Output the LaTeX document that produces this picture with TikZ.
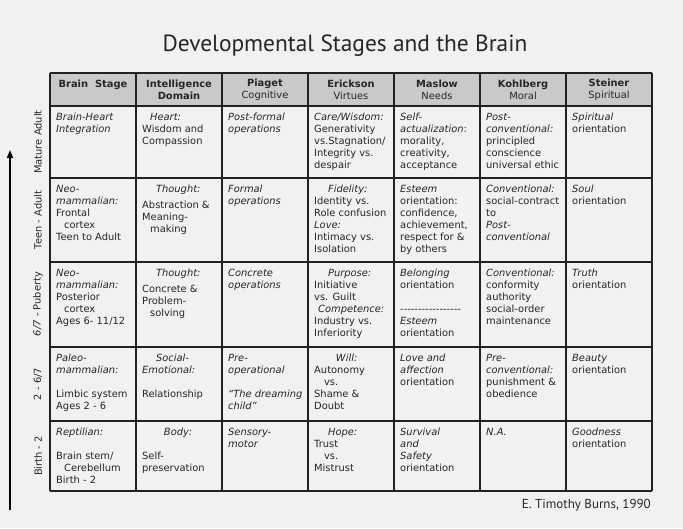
\documentclass[tikz,border=0pt]{standalone}
\usepackage{fontspec}
\setmainfont{DejaVu Sans}
\newfontfamily\titlefont{PT Sans}
\usetikzlibrary{arrows.meta}
\definecolor{bg}{HTML}{F1F1F1}
\definecolor{hd}{HTML}{C9C9C9}
\definecolor{ln}{HTML}{222222}
\newcommand\itl[1]{{\itshape #1}}
\begin{document}
\begin{tikzpicture}[x=1pt,y=-1pt,
  cell/.style={anchor=north west,inner sep=0pt,align=left,font=\fontsize{9.9}{12}\selectfont,text=black!85},
  head/.style={anchor=center,inner sep=0pt,align=center,font=\fontsize{9.9}{12}\selectfont,text=black!85},
  rowlab/.style={rotate=90,anchor=center,inner sep=0pt,font=\fontsize{9.9}{11}\selectfont,text=black!85},
  grid/.style={draw=ln,line width=1.3pt}]
\fill[bg] (0,0) rectangle (683,528);
\useasboundingbox (0,0) rectangle (683,528);
\node[font=\titlefont\fontsize{23.4}{28}\selectfont,text=black!85] (title) at (345,46) {Developmental Stages and the Brain};
\fill[hd] (50,73) rectangle (652,106);
\foreach \x in {50,136,222,308,394,480,566,652} \draw[grid] (\x,73) -- (\x,491);
\foreach \y in {73,106,178,262,347,421,491} \draw[grid] (50,\y) -- (652,\y);
% headers
\node[head] (h1) at (93,85) {\bfseries Brain\ \ Stage};
\node[head] (h2) at (179,90) {\bfseries Intelligence\\\bfseries Domain};
\node[head] (h3) at (265,90) {\bfseries Piaget\\Cognitive};
\node[head] (h4) at (351,90) {\bfseries Erickson\\Virtues};
\node[head] (h5) at (437,90) {\bfseries Maslow\\Needs};
\node[head] (h6) at (523,90) {\bfseries Kohlberg\\Moral};
\node[head] (h7) at (609,90) {\bfseries Steiner\\Spiritual};
% row labels
\node[rowlab] (l1) at (38,142) {Mature Adult};
\node[rowlab] (l2) at (38,220) {Teen - Adult};
\node[rowlab] (l3) at (38,304) {\itshape 6/7\upshape\ - Puberty};
\node[rowlab] (l4) at (38,384) {2 - 6/7};
\node[rowlab] (l5) at (38,456) {Birth - 2};
\coordinate (abot) at (10,510);
\coordinate (atop) at (10,150);
\draw[line width=1.6pt,-{Triangle[length=8pt,width=6pt]}] (abot) -- (atop);
% row 1
\node[cell] (r1c1) at (56,113) {\itl{Brain-Heart}\\\itl{Integration}};
\node[cell] (r1c2) at (142,113) {\hspace{0.8em}\itl{Heart:}\\Wisdom and\\Compassion};
\node[cell] (r1c3) at (228,113) {\itl{Post-formal}\\\itl{operations}};
\node[cell] (r1c4) at (314,113) {\itl{Care/Wisdom:}\\Generativity\\vs.Stagnation/\\Integrity vs.\\despair};
\node[cell] (r1c5) at (400,113) {\itl{Self-}\\\itl{actualization}:\\morality,\\creativity,\\acceptance};
\node[cell] (r1c6) at (486,113) {\itl{Post-}\\\itl{conventional:}\\principled\\conscience\\universal ethic};
\node[cell] (r1c7) at (572,113) {\itl{Spiritual}\\orientation};
% row 2
\node[cell] (r2c1) at (56,185) {\itl{Neo-}\\\itl{mammalian:}\\Frontal\\\hspace{0.8em}cortex\\Teen to Adult};
\node[cell] (r2c2) at (142,185) {\hspace{1.4em}\itl{Thought:}\\[4pt]Abstraction \&\\Meaning-\\\hspace{0.8em}making};
\node[cell] (r2c3) at (228,185) {\itl{Formal}\\\itl{operations}};
\node[cell] (r2c4) at (314,185) {\hspace{1.4em}\itl{Fidelity:}\\Identity vs.\\Role confusion\\\itl{Love:}\\Intimacy vs.\\Isolation};
\node[cell] (r2c5) at (400,185) {\itl{Esteem}\\orientation:\\confidence,\\achievement,\\respect for \&\\by others};
\node[cell] (r2c6) at (486,185) {\itl{Conventional:}\\social-contract\\to\\\itl{Post-}\\\itl{conventional}};
\node[cell] (r2c7) at (572,185) {\itl{Soul}\\orientation};
% row 3
\node[cell] (r3c1) at (56,269) {\itl{Neo-}\\\itl{mammalian:}\\Posterior\\\hspace{0.8em}cortex\\Ages 6- 11/12};
\node[cell] (r3c2) at (142,269) {\hspace{1.4em}\itl{Thought:}\\[4pt]Concrete \&\\Problem-\\\hspace{0.8em}solving};
\node[cell] (r3c3) at (228,269) {\itl{Concrete}\\\itl{operations}};
\node[cell] (r3c4) at (314,269) {\hspace{1.4em}\itl{Purpose:}\\Initiative\\vs. Guilt\\\hspace{0.4em}\itl{Competence:}\\Industry vs.\\Inferiority};
\node[cell] (r3c5) at (400,269) {\itl{Belonging}\\orientation\\[12pt]-{}-{}-{}-{}-{}-{}-{}-{}-{}-{}-{}-{}-{}-{}-{}-{}-\\\itl{Esteem}\\orientation};
\node[cell] (r3c6) at (486,269) {\itl{Conventional:}\\conformity\\authority\\social-order\\maintenance};
\node[cell] (r3c7) at (572,269) {\itl{Truth}\\orientation};
% row 4
\node[cell] (r4c1) at (56,354) {\itl{Paleo-}\\\itl{mammalian:}\\[12pt]Limbic system\\Ages 2 - 6};
\node[cell] (r4c2) at (142,354) {\hspace{1.4em}\itl{Social-}\\\itl{Emotional:}\\[12pt]Relationship};
\node[cell] (r4c3) at (228,354) {\itl{Pre-}\\\itl{operational}\\[12pt]\itl{``The dreaming}\\\itl{child''}};
\node[cell] (r4c4) at (314,354) {\hspace{2.2em}\itl{Will:}\\Autonomy\\\hspace{1em}vs.\\Shame \&\\Doubt};
\node[cell] (r4c5) at (400,354) {\itl{Love and}\\\itl{affection}\\orientation};
\node[cell] (r4c6) at (486,354) {\itl{Pre-}\\\itl{conventional:}\\punishment \&\\obedience};
\node[cell] (r4c7) at (572,354) {\itl{Beauty}\\orientation};
% row 5
\node[cell] (r5c1) at (56,428) {\itl{Reptilian:}\\[12pt]Brain stem/\\\hspace{0.8em}Cerebellum\\Birth - 2};
\node[cell] (r5c2) at (142,428) {\hspace{2.2em}\itl{Body:}\\[12pt]Self-\\preservation};
\node[cell] (r5c3) at (228,428) {\itl{Sensory-}\\\itl{motor}};
\node[cell] (r5c4) at (314,428) {\hspace{1.4em}\itl{Hope:}\\Trust\\\hspace{1em}vs.\\Mistrust};
\node[cell] (r5c5) at (400,428) {\itl{Survival}\\\itl{and}\\\itl{Safety}\\orientation};
\node[cell] (r5c6) at (486,428) {\itl{N.A.}};
\node[cell] (r5c7) at (572,428) {\itl{Goodness}\\orientation};
\node[anchor=east,inner sep=0pt,font=\titlefont\fontsize{13}{15}\selectfont,text=black!85] (credit) at (651,505) {E. Timothy Burns, 1990};
\end{tikzpicture}
\end{document}
